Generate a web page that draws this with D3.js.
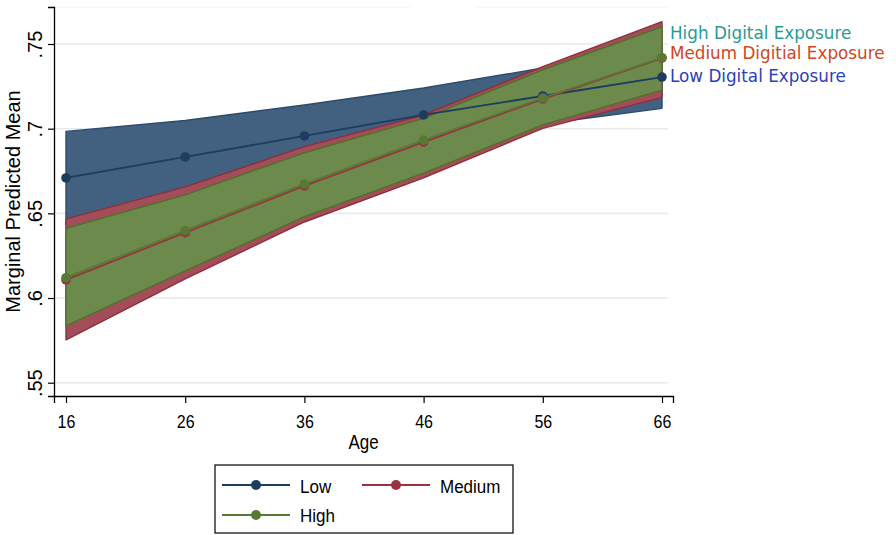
<!DOCTYPE html>
<html>
<head>
<meta charset="utf-8">
<script src="https://cdn.jsdelivr.net/npm/d3@7"></script>
<style>
  html, body { margin: 0; padding: 0; background: #ffffff; }
  svg { display: block; }
</style>
</head>
<body>
<svg id="chart" width="896" height="535"></svg>
<script>
// ---------------- DATA ----------------
const ages = [16, 26, 36, 46, 56, 66];

const lowMean  = [0.6709, 0.6833, 0.6957, 0.7081, 0.7193, 0.7305];
const lowUpper = [0.6984, 0.7048, 0.7140, 0.7240, 0.7358, 0.7488];
const lowLower = [0.6432, 0.6618, 0.6774, 0.6922, 0.7028, 0.7120];

const medMean  = [0.6107, 0.6386, 0.6662, 0.6921, 0.7175, 0.7417];
const medUpper = [0.6467, 0.6656, 0.6894, 0.7081, 0.7366, 0.7632];
const medLower = [0.5753, 0.6113, 0.6449, 0.6709, 0.7002, 0.7185];

const highMean  = [0.6120, 0.6398, 0.6673, 0.6933, 0.7181, 0.7419];
const highUpper = [0.6412, 0.6609, 0.6858, 0.7061, 0.7347, 0.7602];
const highLower = [0.5835, 0.6160, 0.6480, 0.6737, 0.7022, 0.7228];

const yTicks = [0.55, 0.60, 0.65, 0.70, 0.75];
const yTickLabels = [".55", ".6", ".65", ".7", ".75"];
const xTicks = [16, 26, 36, 46, 56, 66];

const seriesNames = ["Low", "Medium", "High"];
const sideLabels = ["High Digital Exposure", "Medium Digitial Exposure", "Low Digital Exposure"];

// ---------------- STYLE / LAYOUT ----------------
const plot = { left: 54, right: 673, top: 7, bottom: 396 };
const styles = {
  Low:    { fill: "#42607f", edge: "#2c4b6d", line: "#1d3c60" },
  Medium: { fill: "#a24d59", edge: "#8e2f3c", line: "#9a3340" },
  High:   { fill: "#6c8a4c", edge: "#4f7129", line: "#577a33" }
};
const sideColors = ["#2a9a94", "#d0461f", "#2b3fbb"];
const axisFont = "'Liberation Sans', Arial, Helvetica, sans-serif";

const svg = d3.select("#chart");

const x = d3.scaleLinear().domain([16, 66]).range([66, 662]);
const y = d3.scaleLinear().domain([0.55, 0.75]).range([382.7, 44]);

// ---------------- GRID ----------------
const grid = svg.append("g");
grid.selectAll("line.grid").data(yTicks).join("line")
  .attr("x1", plot.left).attr("x2", 668)
  .attr("y1", d => y(d)).attr("y2", d => y(d))
  .attr("stroke", "#e4eced").attr("stroke-width", 1.6);

// faint top boundary of plot region
grid.append("line").attr("x1", plot.left).attr("x2", 410).attr("y1", plot.top).attr("y2", plot.top)
  .attr("stroke", "#eef3f3").attr("stroke-width", 1.2);
grid.append("line").attr("x1", 476).attr("x2", 668).attr("y1", plot.top).attr("y2", plot.top)
  .attr("stroke", "#eef3f3").attr("stroke-width", 1.2);

// ---------------- BANDS ----------------
const series = [
  { name: "Low", mean: lowMean, upper: lowUpper, lower: lowLower },
  { name: "Medium", mean: medMean, upper: medUpper, lower: medLower },
  { name: "High", mean: highMean, upper: highUpper, lower: highLower }
];

const area = d3.area()
  .x(d => x(d.age)).y0(d => y(d.lo)).y1(d => y(d.hi));
const line = d3.line().x(d => x(d.age)).y(d => y(d.v));

series.forEach(s => {
  const pts = ages.map((a, i) => ({ age: a, lo: s.lower[i], hi: s.upper[i] }));
  svg.append("path").datum(pts)
    .attr("d", area)
    .attr("fill", styles[s.name].fill)
    .attr("stroke", styles[s.name].edge)
    .attr("stroke-width", 1.4)
    .attr("stroke-linejoin", "round");
});

// ---------------- LINES + MARKERS ----------------
series.forEach(s => {
  const pts = ages.map((a, i) => ({ age: a, v: s.mean[i] }));
  const g = svg.append("g");
  g.append("path").datum(pts)
    .attr("d", line)
    .attr("fill", "none")
    .attr("stroke", styles[s.name].line)
    .attr("stroke-width", 1.8);
  g.selectAll("circle").data(pts).join("circle")
    .attr("cx", d => x(d.age)).attr("cy", d => y(d.v)).attr("r", 4.8)
    .attr("fill", styles[s.name].line);
});

// ---------------- AXES ----------------
const xAxisScale = d3.scaleLinear()
  .domain([x.invert(plot.left), x.invert(plot.right)]).range([plot.left, plot.right]);
const xAxis = svg.append("g")
  .attr("transform", `translate(0,${plot.bottom})`)
  .call(d3.axisBottom(xAxisScale).tickValues(xTicks).tickSizeOuter(0).tickSize(7).tickFormat(d3.format("d")));
xAxis.select(".domain").attr("stroke", "#000").attr("stroke-width", 1.3);
xAxis.selectAll(".tick line").attr("stroke", "#000").attr("stroke-width", 1.2);
xAxis.selectAll(".tick text")
  .attr("y", null).attr("dy", null)
  .attr("transform", "translate(0,32) scale(1,1.16)")
  .attr("font-family", axisFont).attr("font-size", 16).attr("fill", "#000");

const yAxisScale = d3.scaleLinear()
  .domain([y.invert(plot.bottom), y.invert(plot.top)]).range([plot.bottom, plot.top]);
const yAxis = svg.append("g")
  .attr("transform", `translate(${plot.left},0)`)
  .call(d3.axisLeft(yAxisScale).tickValues(yTicks).tickSizeOuter(0).tickSize(6)
    .tickFormat((d, i) => yTickLabels[i]));
yAxis.select(".domain").attr("stroke", "#000").attr("stroke-width", 1.3);
yAxis.selectAll(".tick line").attr("stroke", "#000").attr("stroke-width", 1.2);
yAxis.selectAll(".tick text")
  .attr("x", null).attr("dy", null)
  .attr("transform", "translate(-12,0) rotate(-90)")
  .attr("text-anchor", "middle")
  .attr("font-family", axisFont).attr("font-size", 20).attr("fill", "#000");

// axis titles
svg.append("text")
  .attr("transform", `translate(${(plot.left + plot.right) / 2},449) scale(1,1.15)`)
  .attr("text-anchor", "middle")
  .attr("font-family", axisFont).attr("font-size", 17).attr("fill", "#000")
  .text("Age");

svg.append("text")
  .attr("transform", `translate(20,${(plot.top + plot.bottom) / 2}) rotate(-90)`)
  .attr("text-anchor", "middle")
  .attr("font-family", axisFont).attr("font-size", 20).attr("fill", "#000")
  .text("Marginal Predicted Mean");

// ---------------- SIDE LABELS ----------------
const sideBaselines = [38.8, 58.6, 81.7];
svg.selectAll("text.side").data(sideLabels).join("text")
  .attr("class", "side")
  .attr("x", 670).attr("y", (d, i) => sideBaselines[i])
  .attr("font-family", "'DejaVu Sans', Verdana, sans-serif")
  .attr("font-size", 16.8)
  .attr("fill", (d, i) => sideColors[i])
  .text(d => d);

// ---------------- LEGEND ----------------
const legend = svg.append("g");
legend.append("rect")
  .attr("x", 215).attr("y", 465).attr("width", 298).attr("height", 68)
  .attr("fill", "#fff").attr("stroke", "#000").attr("stroke-width", 1.2);

const legendPos = [
  { x: 222, y: 485, tx: 300, ty: 493.3 },
  { x: 362, y: 485, tx: 440, ty: 493.3 },
  { x: 222, y: 515, tx: 300, ty: 521.7 }
];
seriesNames.forEach((name, i) => {
  const p = legendPos[i];
  legend.append("line")
    .attr("x1", p.x).attr("x2", p.x + 68).attr("y1", p.y).attr("y2", p.y)
    .attr("stroke", styles[name].line).attr("stroke-width", 2.2);
  legend.append("circle")
    .attr("cx", p.x + 34).attr("cy", p.y).attr("r", 5)
    .attr("fill", styles[name].line);
  legend.append("text")
    .attr("transform", `translate(${p.tx},${p.ty}) scale(1,1.13)`)
    .attr("font-family", axisFont).attr("font-size", 17).attr("fill", "#000")
    .text(name);
});
</script>
</body>
</html>
